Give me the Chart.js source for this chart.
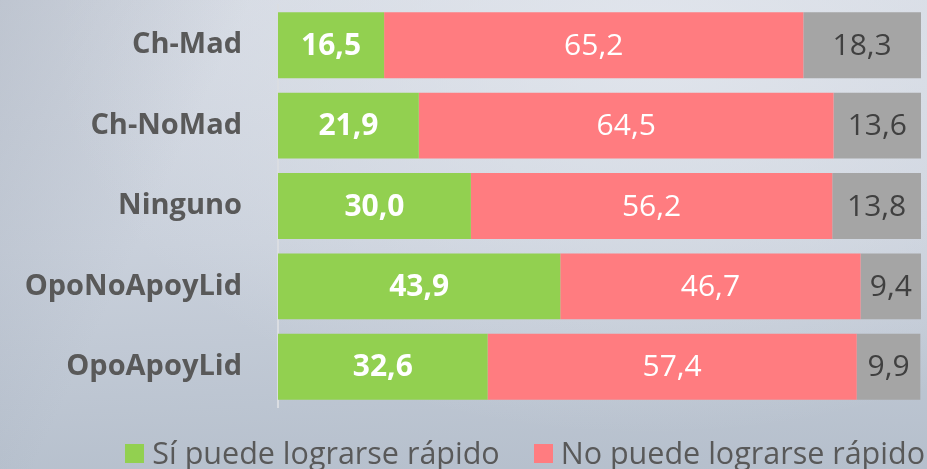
<!DOCTYPE html>
<html>
<head>
<meta charset="utf-8">
<script src="https://cdn.jsdelivr.net/npm/chart.js@4"></script>
<style>
  html, body { margin: 0; padding: 0; }
  body {
    width: 927px;
    height: 469px;
    overflow: hidden;
    font-family: 'Open Sans', 'DejaVu Sans', sans-serif;
    background:
      linear-gradient(115deg, rgba(150,160,175,0.35) 0%, rgba(150,160,175,0) 22%),
      radial-gradient(ellipse at 70% 10%, rgba(228,232,239,0.8), rgba(228,232,239,0) 65%),
      linear-gradient(178deg, #d4d9e2 0%, #c9d0db 50%, #b5bfcc 100%);
  }
  #wrap { position: relative; width: 927px; height: 469px; }
  #legend {
    position: absolute;
    right: 2px;
    top: 431px;
    display: flex;
    align-items: center;
    color: #595959;
    font-size: 30.5px;
    line-height: 42px;
    white-space: nowrap;
  }
  #legend .item { display: flex; align-items: center; margin-left: 34px; }
  #legend .item:first-child { margin-left: 0; }
  #legend .box { width: 19px; height: 19px; margin-right: 8px; margin-top: 2px; }
</style>
</head>
<body>
<div id="wrap">
  <canvas id="chart"></canvas>
  <div id="legend"></div>
</div>
<script>
// Survey groups and shares (%) per answer
const categories = ['Ch-Mad', 'Ch-NoMad', 'Ninguno', 'OpoNoApoyLid', 'OpoApoyLid'];
const siRapido = [16.5, 21.9, 30.0, 43.9, 32.6];
const noRapido = [65.2, 64.5, 56.2, 46.7, 57.4];
const nsnc = [18.3, 13.6, 13.8, 9.4, 9.9];
const seriesNames = ['Sí puede lograrse rápido', 'No puede lograrse rápido', 'NS/NC'];
const seriesColors = ['#92d050', '#ff7c80', '#a5a5a5'];

const FONT = "'Open Sans', 'DejaVu Sans', sans-serif";

// Writes each value in the middle of its segment
const segmentLabels = {
  id: 'segmentLabels',
  afterDatasetsDraw(chart) {
    const ctx = chart.ctx;
    const styles = [
      { color: '#ffffff', weight: 'bold' },
      { color: '#ffffff', weight: 'normal' },
      { color: '#404040', weight: 'normal' }
    ];
    ctx.save();
    ctx.textAlign = 'center';
    ctx.textBaseline = 'middle';
    chart.data.datasets.forEach((ds, i) => {
      const meta = chart.getDatasetMeta(i);
      ctx.fillStyle = styles[i].color;
      ctx.font = styles[i].weight + ' 30px ' + FONT;
      meta.data.forEach((bar, j) => {
        const x = (bar.x + bar.base) / 2;
        ctx.fillText(ds.data[j].toFixed(1).replace('.', ','), x, bar.y + 1);
      });
    });
    ctx.restore();
  }
};

const chart = new Chart(document.getElementById('chart'), {
  type: 'bar',
  data: {
    labels: categories,
    datasets: [
      { label: seriesNames[0], data: siRapido, backgroundColor: seriesColors[0] },
      { label: seriesNames[1], data: noRapido, backgroundColor: seriesColors[1] },
      { label: seriesNames[2], data: nsnc, backgroundColor: seriesColors[2] }
    ]
  },
  options: {
    indexAxis: 'y',
    responsive: true,
    maintainAspectRatio: false,
    animation: false,
    layout: { padding: { top: 5, right: 6, left: 0, bottom: 62 } },
    datasets: {
      bar: { categoryPercentage: 1, barPercentage: 0.82 }
    },
    scales: {
      x: {
        stacked: true,
        min: 0,
        max: 100,
        display: false
      },
      y: {
        stacked: true,
        grid: { display: false },
        border: { display: true, color: '#dadde2', width: 2 },
        ticks: {
          padding: 28,
          color: '#595959',
          font: { family: FONT, size: 29, weight: 'bold' }
        },
        afterFit(scale) {
          // fixed label column, no extra space above/below the bars
          scale.width = 278;
          scale.paddingTop = 0;
          scale.paddingBottom = 0;
        }
      }
    },
    plugins: {
      legend: { display: false },
      tooltip: { enabled: false }
    }
  },
  plugins: [segmentLabels]
});

// Legend for the two main answers
const legendEl = document.getElementById('legend');
chart.data.datasets.slice(0, 2).forEach(ds => {
  const item = document.createElement('div');
  item.className = 'item';
  item.innerHTML = '<span class="box" style="background:' + ds.backgroundColor + '"></span><span>' + ds.label + '</span>';
  legendEl.appendChild(item);
});
</script>
</body>
</html>
